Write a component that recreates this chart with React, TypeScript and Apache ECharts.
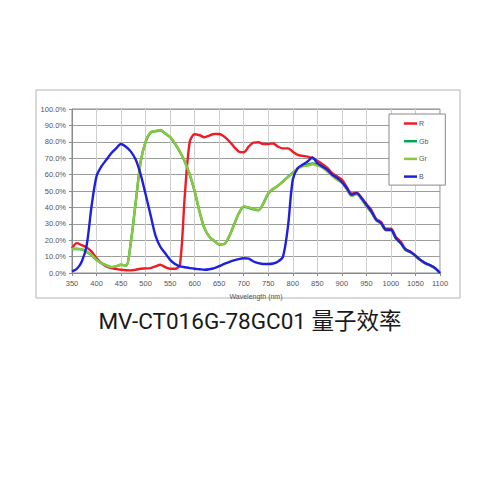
import { useEffect, useRef } from "react";
import * as echarts from "echarts";

// wavelength samples (nm), every 10 nm from 350 to 1100
const wavelengths: number[] = Array.from({ length: 76 }, (_, i) => 350 + i * 10);

// quantum efficiency, percent
const rValues = [
  15, 18.2, 17, 15.6, 13, 9, 6, 4, 3, 2.4,
  2, 1.7, 1.6, 2, 2.6, 2.8, 3, 4, 5, 3.6,
  2.6, 2.6, 5, 47.7, 80, 84.6, 84, 82.8, 83.8, 84.8,
  84.8, 83.2, 80.5, 77, 74, 73.6, 77, 79.5, 79.7, 78.7,
  78.7, 79, 77, 76, 76, 74, 72, 71.4, 71, 70,
  68.4, 66.5, 64.3, 61, 59, 57, 52.5, 48.5, 49, 46,
  42, 38.5, 33, 31, 27, 27, 22, 19, 14.5, 13,
  10.5, 8, 6, 4.7, 3, 0
];
const gbValues = [
  14.6, 14.6, 14.4, 12.8, 10.8, 8, 6, 4.7, 3.6, 4,
  5, 4.5, 19, 43.6, 68, 80, 85.6, 86.4, 87, 85,
  82.8, 78.8, 73.8, 67.8, 59.8, 49.8, 37.3, 27.2, 22.1, 19.5,
  17.4, 17.6, 22.1, 29.2, 36.3, 40.4, 39.8, 38.8, 38.3, 42.4,
  48.5, 51.2, 53.3, 55.9, 58.6, 61.2, 63.8, 65.4, 66, 66.8,
  66.2, 65, 62.6, 59.8, 57.3, 55.3, 51.3, 47.3, 48.3, 45.3,
  40.8, 37.3, 32.3, 30.2, 26.2, 26.2, 21.2, 18.2, 14.1, 12.7,
  10.4, 7.9, 5.9, 4.6, 2.9, 0
];
const grValues = [
  14.8, 14.8, 14.6, 13, 11, 8, 6, 4.7, 3.6, 4,
  5, 4.5, 19, 43.6, 68, 80, 85.8, 86.6, 87.2, 85.2,
  83, 79, 74, 68, 60, 50, 37.5, 27.4, 22.3, 19.7,
  17.6, 17.8, 22.3, 29.4, 36.5, 40.6, 40, 39, 38.5, 42.6,
  48.7, 51.3, 53.3, 55.8, 58.4, 60.9, 63.5, 65, 65.5, 66.3,
  65.5, 64.3, 61.9, 59.2, 56.8, 55, 51, 47, 48, 45,
  40.5, 37, 32, 30, 26, 26, 21, 18, 14, 12.6,
  10.3, 7.8, 5.8, 4.5, 2.8, 0
];
const bValues = [
  1, 2.6, 7, 17, 41, 59, 65, 69, 73, 76,
  78.7, 77, 74, 69, 60, 48, 35.5, 23, 16, 12,
  8, 5.5, 4, 3.5, 3, 2.6, 2.3, 2, 2.3, 3,
  4.2, 5.5, 6.7, 7.7, 8.5, 9, 8.7, 7, 6, 5.5,
  5.5, 5.8, 7, 10, 28, 57, 64, 66, 68, 70.4,
  67, 65, 63, 60, 58, 55.4, 51.7, 47.7, 48.7, 45.6,
  41.6, 37.5, 32.5, 30.4, 26.4, 26.4, 21.3, 18.3, 14.2, 12.8,
  10.5, 8, 6, 4.7, 3, 0
];

const seriesNames = ["R", "Gb", "Gr", "B"];
const seriesColors = ["#ee1c24", "#00a651", "#8dc63f", "#1f1fe0"];
const seriesValues = [rValues, gbValues, grValues, bValues];

const titleText = "MV-CT016G-78GC01 量子效率";
const xAxisName = "Wavelength (nm)";

export default function App() {
  const ref = useRef<HTMLDivElement | null>(null);

  useEffect(() => {
    if (!ref.current) return undefined;
    const chart = echarts.init(ref.current, undefined, { renderer: "svg" });

    const labelFont = "'Liberation Sans', Arial, sans-serif";

    chart.setOption({
      animation: false,
      title: {
        text: titleText,
        left: "center",
        top: 305,
        textStyle: {
          fontSize: 22.5,
          fontWeight: "normal",
          color: "#1a1a1a",
          fontFamily: "Roboto, 'Noto Sans CJK SC', sans-serif"
        }
      },
      graphic: [
        {
          type: "rect",
          shape: { x: 36, y: 90, width: 424, height: 208 },
          style: { fill: "none", stroke: "#b4b4b4", lineWidth: 1 },
          silent: true,
          z: -1
        }
      ],
      legend: {
        orient: "vertical",
        left: 389,
        top: 114,
        width: 55,
        padding: [5, 17, 4, 15],
        backgroundColor: "#fff",
        borderColor: "#8a8a8a",
        borderWidth: 1,
        itemWidth: 13,
        itemHeight: 2.5,
        itemGap: 8.7,
        icon: "rect",
        textStyle: {
          fontSize: 7,
          lineHeight: 9,
          color: "#555",
          fontFamily: labelFont,
          padding: [0, 0, 0, -3]
        },
        data: seriesNames
      },
      grid: {
        left: 72,
        right: 60,
        top: 109,
        bottom: 227,
        show: true,
        borderColor: "#8a8a8a",
        borderWidth: 1,
        backgroundColor: "#fff"
      },
      xAxis: {
        type: "value",
        min: 350,
        max: 1100,
        interval: 50,
        name: xAxisName,
        nameLocation: "middle",
        nameGap: 20,
        nameTextStyle: { fontSize: 7, color: "#555", fontFamily: labelFont },
        axisLine: { show: true, lineStyle: { color: "#8a8a8a" } },
        axisTick: { show: true, length: 3, lineStyle: { color: "#8a8a8a" } },
        axisLabel: {
          fontSize: 7.5,
          color: "#555",
          margin: 6,
          fontFamily: labelFont,
          formatter: (v: number) => String(v)
        },
        splitLine: { show: true, lineStyle: { color: "#cfcfcf", width: 1 } }
      },
      yAxis: {
        type: "value",
        min: 0,
        max: 100,
        interval: 10,
        axisLine: { show: true, lineStyle: { color: "#8a8a8a" } },
        axisTick: { show: true, length: 3, lineStyle: { color: "#8a8a8a" } },
        axisLabel: {
          fontSize: 7.5,
          color: "#555",
          margin: 6,
          fontFamily: labelFont,
          formatter: (v: number) => `${v.toFixed(1)}%`
        },
        splitLine: { show: true, lineStyle: { color: "#9c9c9c", width: 1 } }
      },
      series: seriesNames.map((name, i) => ({
        name,
        type: "line",
        data: wavelengths.map((w, j) => [w, seriesValues[i][j]]),
        showSymbol: false,
        symbol: "none",
        smooth: 0.3,
        lineStyle: { color: seriesColors[i], width: 2.4 },
        itemStyle: { color: seriesColors[i] },
        z: 2 + i
      }))
    });

    return () => {
      chart.dispose();
    };
  }, []);

  return (
    <div
      ref={ref}
      style={{ position: "absolute", left: 0, top: 0, width: 500, height: 500, background: "#fff" }}
    />
  );
}
